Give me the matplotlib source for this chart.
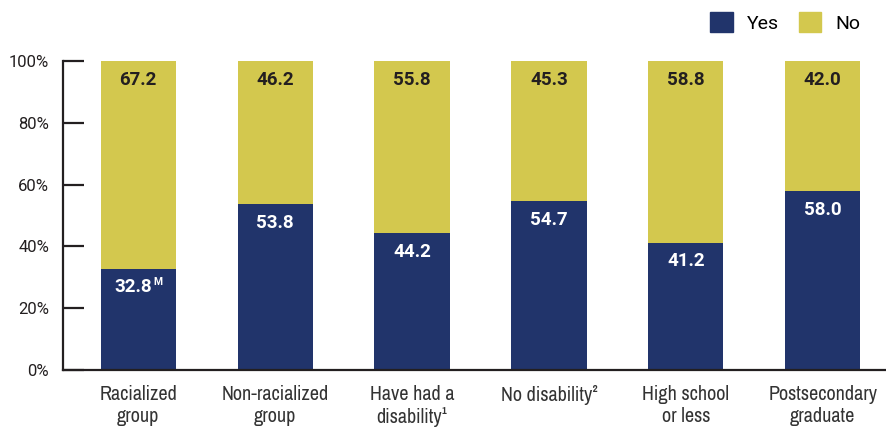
import matplotlib.pyplot as plt
from matplotlib.patches import Patch
from matplotlib import font_manager

# data
groups = ['Racialized\ngroup', 'Non-racialized\ngroup', 'Have had a\ndisability\u00b9',
          'No disability\u00b2', 'High school\nor less', 'Postsecondary\ngraduate']
yes = [32.8, 53.8, 44.2, 54.7, 41.2, 58.0]
no = [67.2, 46.2, 55.8, 45.3, 58.8, 42.0]
yes_marks = ['M', '', '', '', '', '']

navy = '#21346b'
gold = '#d3c84e'
ink = '#231f20'

# pick a narrow face if one is installed
names = sorted({f.name for f in font_manager.fontManager.ttflist})
narrow = [n for n in names if 'Condensed' in n or 'Narrow' in n]
cond = narrow[0] if narrow else 'Roboto'

plt.rcParams['font.family'] = ['Roboto', 'DejaVu Sans']

fig = plt.figure(figsize=(8.87, 4.30), dpi=100)
ax = fig.add_axes([0.071, 0.1395, 0.929, 0.7185])

x = list(range(len(groups)))
ax.bar(x, yes, width=0.55, color=navy, zorder=2)
ax.bar(x, no, width=0.55, bottom=yes, color=gold, zorder=2)

num_font = dict(fontsize=13.5, fontweight='bold')
for i in x:
    dx = -3.3 if yes_marks[i] else 0
    ax.annotate(f'{yes[i]:.1f}', (i, yes[i]), xytext=(dx, -13.5), textcoords='offset points',
                ha='center', va='center', color='white', **num_font)
    if yes_marks[i]:
        ax.annotate(yes_marks[i], (i, yes[i]), xytext=(14, -9.5), textcoords='offset points',
                    ha='center', va='center', color='white', fontsize=7.5, fontweight='bold')
    ax.annotate(f'{no[i]:.1f}', (i, 100), xytext=(0, -13.5), textcoords='offset points',
                ha='center', va='center', color=ink, **num_font)

ax.set_xlim(-0.55, 5.47)
ax.set_ylim(0, 100)
ax.set_yticks(range(0, 101, 20))
ax.set_yticklabels([f'{v}%' for v in range(0, 101, 20)])
ax.set_xticks(x)
ax.set_xticklabels(groups, fontsize=14.5, color='#333333', linespacing=1.15,
                   family=[cond, 'DejaVu Sans'])
ax.tick_params(axis='x', length=0, pad=11)
ax.tick_params(axis='y', direction='in', length=15, width=1.6, color=ink,
               labelsize=12, labelcolor=ink, pad=10)

for s in ['top', 'right']:
    ax.spines[s].set_visible(False)
for s in ['left', 'bottom']:
    ax.spines[s].set_color(ink)
    ax.spines[s].set_linewidth(1.6)

handles = [Patch(color=navy, label='Yes'), Patch(color=gold, label='No')]
fig.legend(handles=handles, loc='upper right', bbox_to_anchor=(0.99, 1.012), ncol=2,
           frameon=False, handlelength=1.15, handleheight=1.15,
           handletextpad=0.75, columnspacing=1.0, prop={'size': 14})

fig.savefig('out.png', dpi=100)
